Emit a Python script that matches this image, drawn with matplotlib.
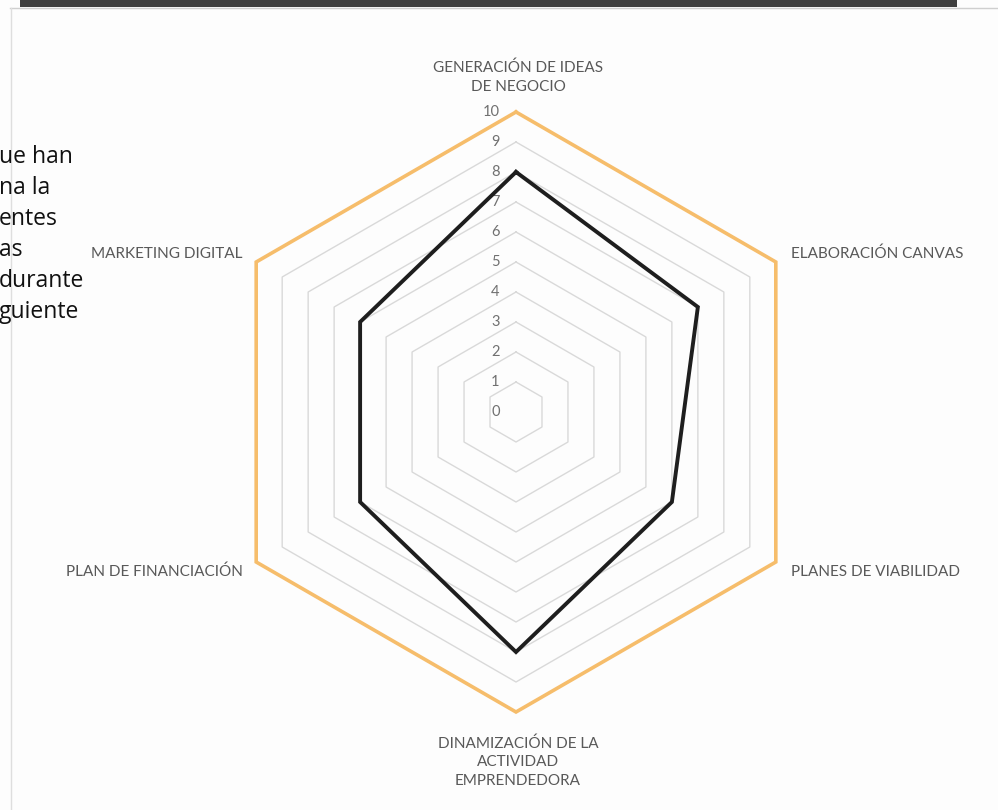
"""Radar chart of entrepreneurship training areas (hexagonal grid, 0-10 scale)."""

import matplotlib

matplotlib.use("Agg")
import matplotlib.pyplot as plt
import numpy as np

# Data, clockwise from the top axis
categories = [
    "GENERACIÓN DE IDEAS\nDE NEGOCIO",
    "ELABORACIÓN CANVAS",
    "PLANES DE VIABILIDAD",
    "DINAMIZACIÓN DE LA\nACTIVIDAD\nEMPRENDEDORA",
    "PLAN DE FINANCIACIÓN",
    "MARKETING DIGITAL",
]
values = [8, 7, 6, 8, 6, 6]
ring_levels = list(range(0, 11))
# paragraph behind the chart, cut off by the left edge of the page
side_text = ["ue han", "na la", "entes", "as", "durante", "guiente"]

W, H = 998, 810
CX, CY = 516, 412  # chart centre in pixels (from top-left)
UNIT = 30.0  # pixels per value unit

fig = plt.figure(figsize=(W / 100, H / 100), dpi=100, facecolor="#fdfdfd")
ax = fig.add_axes([0, 0, 1, 1])
ax.set_xlim(-CX / UNIT, (W - CX) / UNIT)
ax.set_ylim(-(H - CY) / UNIT, CY / UNIT)
ax.set_facecolor("#fdfdfd")
ax.axis("off")

n = len(categories)
angles = np.pi / 2 - np.arange(n) * 2 * np.pi / n
closed = np.append(angles, angles[0])


def polygon(radii):
    r = np.append(radii, radii[0])
    return r * np.cos(closed), r * np.sin(closed)


# grid rings
for level in ring_levels[1:]:
    xs, ys = polygon(np.full(n, level))
    if level == ring_levels[-1]:
        ax.plot(xs, ys, color="#f6bd6b", lw=2.6, zorder=2, solid_joinstyle="miter")
    else:
        ax.plot(xs, ys, color="#d9d9d9", lw=1.0, zorder=1)

# value tick labels along the top axis
for level in ring_levels:
    ax.text(-0.55, level, str(level), ha="right", va="center",
            fontsize=10.5, color="#707070", family="Lato", zorder=3)

# data series
xs, ys = polygon(np.asarray(values, dtype=float))
ax.plot(xs, ys, color="#1e1e1e", lw=2.8, zorder=4, solid_joinstyle="miter")

# category labels
label_style = dict(fontsize=11, color="#595959", family="Lato", linespacing=1.45)
outer = ring_levels[-1]
for cat, ang in zip(categories, angles):
    cx, cy = np.cos(ang), np.sin(ang)
    dy = 0.27 if cy > 0 else -0.33
    if abs(cx) < 1e-6:
        if cy > 0:
            ax.text(0.07, outer + 0.6, cat, ha="center", va="bottom", **label_style)
        else:
            ax.text(0.07, -outer - 0.8, cat, ha="center", va="top", **label_style)
    elif cx > 0:
        ax.text(outer * cx + 0.5, outer * cy + dy, cat, ha="left", va="center", **label_style)
    else:
        ax.text(outer * cx - 0.45, outer * cy + dy, cat, ha="right", va="center", **label_style)

# page decoration: dark header bar, faint frame lines, clipped paragraph text
fig.add_artist(plt.Rectangle((20 / W, 1 - 7 / H), 937 / W, 7 / H,
                             transform=fig.transFigure, color="#404040", lw=0))
fig.add_artist(plt.Line2D([10 / W, 1], [1 - 7.5 / H, 1 - 7.5 / H],
                          transform=fig.transFigure, color="#cfcfcf", lw=1))
fig.add_artist(plt.Line2D([10.5 / W, 10.5 / W], [0, 1 - 7.5 / H],
                          transform=fig.transFigure, color="#dedede", lw=1))
for i, line in enumerate(side_text):
    fig.text(-1 / W, 1 - (157 + i * 31) / H, line, ha="left", va="center",
             fontsize=16.5, color="#111111", family="Open Sans")

fig.savefig("out.png", dpi=100, facecolor=fig.get_facecolor())
